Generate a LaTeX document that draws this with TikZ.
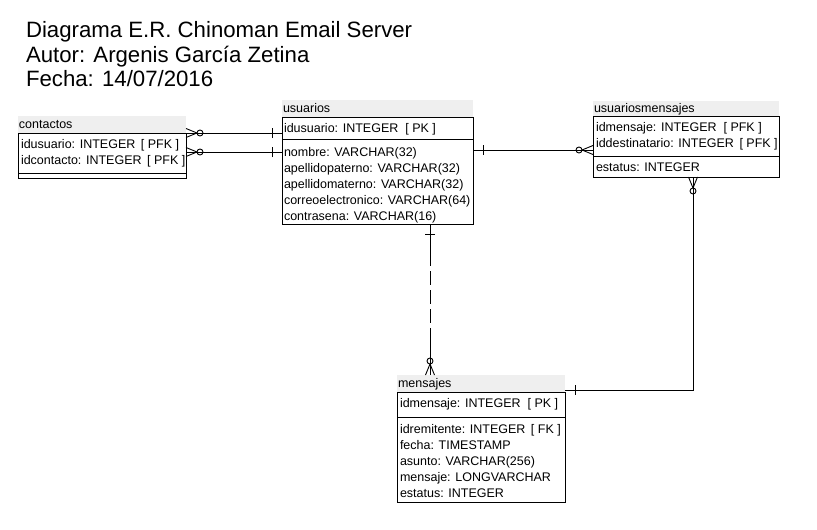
\documentclass[tikz,border=0pt]{standalone}
\usepackage{fontspec}
\setmainfont{Liberation Sans}
\usetikzlibrary{calc}
\definecolor{hdrgray}{HTML}{EFEFEF}
\newcommand{\kgap}{\hspace{5.5pt}}
\begin{document}
\begin{tikzpicture}[x=1pt,y=-1pt,line width=0.9pt,
  every node/.style={inner sep=0pt,outer sep=0pt},
  tbox/.style={draw,anchor=north west,minimum width=#1},
  hband/.style={fill=hdrgray,anchor=north west,minimum width=#1,minimum height=17pt},
  row/.style={anchor=base west,font=\fontsize{12.5}{16}\selectfont},
  ttl/.style={anchor=base west,font=\fontsize{22.2}{24}\selectfont},
  pics/zmany/.style={code={\draw (0,-4.5)--(11,0) (0,4.5)--(11,0); \draw (14,0) circle (3);}},
  pics/onebar/.style={code={\draw (10,-5)--(10,5);}}]
\fill[white] (0,0) rectangle (817,530);
\useasboundingbox (0,0) rectangle (817,530);

% title
\node[ttl] (t1) at (26,37.5) {Diagrama E.R. Chinoman Email Server};
\node[ttl] (t2) at (26,62) {Autor: Argenis García Zetina};
\node[ttl] (t3) at (26,86.5) {Fecha: 14/07/2016};

% contactos
\node[hband=168pt] (contactosH) at (18,116) {};
\node[row] (contactosT) at (19,128) {contactos};
\node[tbox=168pt,minimum height=45pt] (contactos) at (18,133) {};
\draw (contactos.west |- 0,173) coordinate (cs1) -- (contactos.east |- 0,173) coordinate (cs2);
\node[row] (c1) at (21,148) {idusuario: INTEGER\kgap[ PFK ]};
\node[row] (c2) at (21,164) {idcontacto: INTEGER\kgap[ PFK ]};

% usuarios
\node[hband=191pt] (usuariosH) at (282,100) {};
\node[row] (usuariosT) at (283,112) {usuarios};
\node[tbox=191pt,minimum height=107pt] (usuarios) at (282,117) {};
\draw (usuarios.west |- 0,139) coordinate (us1) -- (usuarios.east |- 0,139) coordinate (us2);
\node[row] (u1) at (284,132) {idusuario: INTEGER\ \ [ PK ]};
\node[row] (u2) at (284,156.5) {nombre: VARCHAR(32)};
\node[row] (u3) at (284,172.5) {apellidopaterno: VARCHAR(32)};
\node[row] (u4) at (284,188.5) {apellidomaterno: VARCHAR(32)};
\node[row] (u5) at (284,204.5) {correoelectronico: VARCHAR(64)};
\node[row] (u6) at (284,220.5) {contrasena: VARCHAR(16)};

% usuariosmensajes
\node[hband=186pt,minimum height=15pt] (umH) at (593,101) {};
\node[row] (umT) at (594,112) {usuariosmensajes};
\node[tbox=186pt,minimum height=61pt] (um) at (593,116) {};
\draw (um.west |- 0,156) coordinate (ms1) -- (um.east |- 0,156) coordinate (ms2);
\node[row] (m1) at (596,131) {idmensaje: INTEGER\ \ [ PFK ]};
\node[row] (m2) at (596,147) {iddestinatario: INTEGER\kgap[ PFK ]};
\node[row] (m3) at (596,171.5) {estatus: INTEGER};

% mensajes
\node[hband=168pt] (mensajesH) at (397,375) {};
\node[row] (mensajesT) at (398,387) {mensajes};
\node[tbox=168pt,minimum height=110pt] (mensajes) at (397,392) {};
\draw (mensajes.west |- 0,417) coordinate (es1) -- (mensajes.east |- 0,417) coordinate (es2);
\node[row] (e1) at (400,407) {idmensaje: INTEGER\ \ [ PK ]};
\node[row] (e2) at (400,433) {idremitente: INTEGER\kgap[ FK ]};
\node[row] (e3) at (400,449) {fecha: TIMESTAMP};
\node[row] (e4) at (400,465) {asunto: VARCHAR(256)};
\node[row] (e5) at (400,481) {mensaje: LONGVARCHAR};
\node[row] (e6) at (400,497) {estatus: INTEGER};

% connector coordinates
\coordinate (r1a) at (contactos.north east);
\coordinate (r1b) at (r1a -| usuarios.west);
\coordinate (r2a) at ($(contactos.north east)+(0,19)$);
\coordinate (r2b) at (r2a -| usuarios.west);
\coordinate (r3a) at ($(usuarios.north east)+(0,33)$);
\coordinate (r3b) at (r3a -| um.west);
\coordinate (r4a) at (usuarios.south -| 430,0);
\coordinate (r4b) at (mensajesH.north -| 430,0);
\coordinate (r4c) at ($(r4a)+(0,28)$);
\coordinate (r4d) at ($(r4b)+(0,-42)$);
\coordinate (r5a) at (um.south -| 693,0);
\coordinate (r5b) at ($(mensajes.north east)+(0,-2)$);
\coordinate (r5c) at (r5a |- r5b);

\draw (r1a) -- (r1b);
\draw (r2a) -- (r2b);
\draw (r3a) -- (r3b);
\draw (r4a) -- (r4c);
\draw[dash pattern=on 14pt off 5pt] (r4c) -- (r4d);
\draw (r4d) -- (r4b);
\draw (r5a) -- (r5c) -- (r5b);

% ends
\pic at (r1a) {zmany};
\pic at (r2a) {zmany};
\pic[rotate=180] at (r1b) {onebar};
\pic[rotate=180] at (r2b) {onebar};
\pic at (r3a) {onebar};
\pic[rotate=180] at (r3b) {zmany};
\pic[rotate=-90] at (r4a) {onebar};
\pic[rotate=90] at (r4b) {zmany};
\pic[rotate=-90] at (r5a) {zmany};
\pic at (r5b) {onebar};
\end{tikzpicture}
\end{document}
